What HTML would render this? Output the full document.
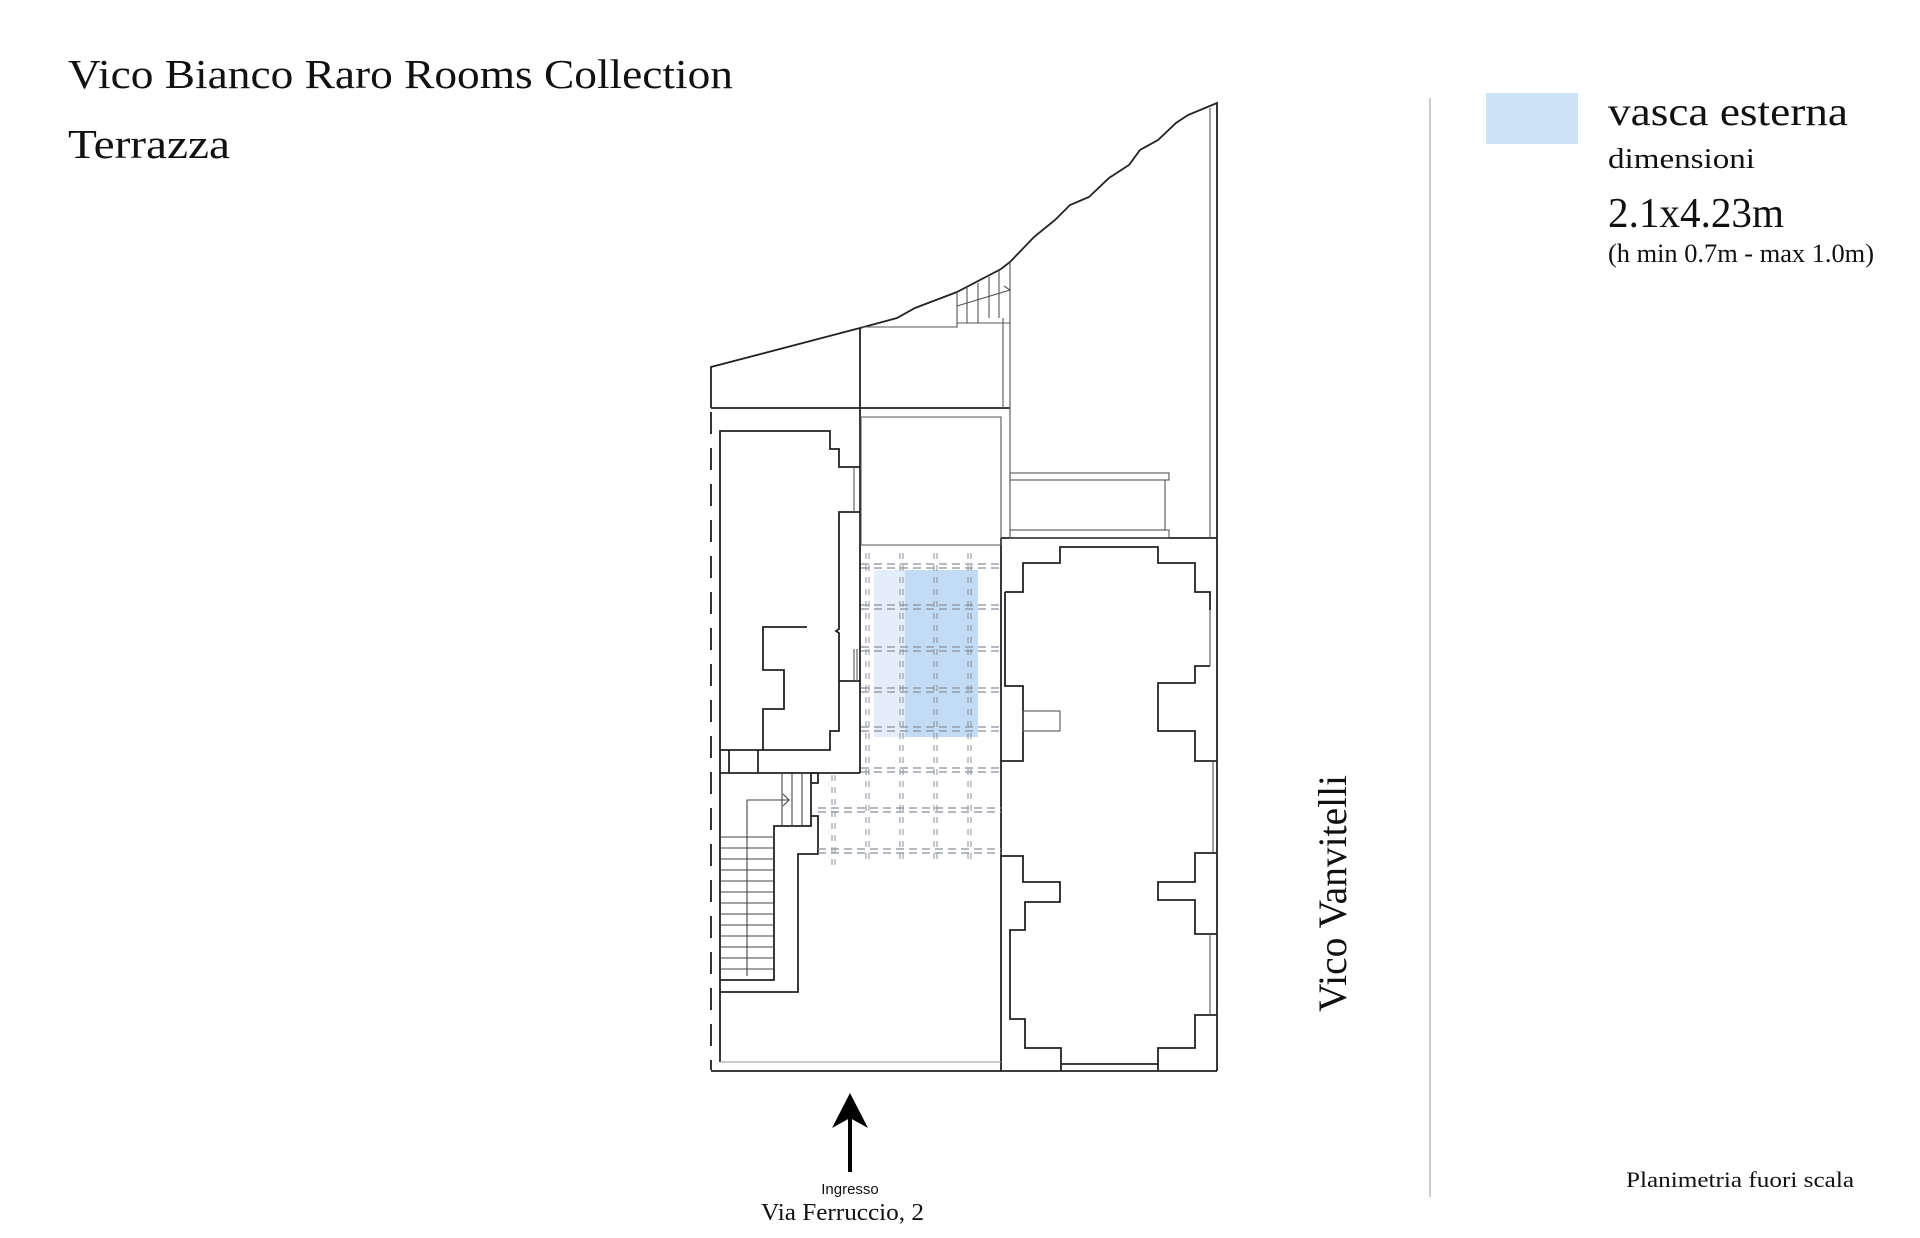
<!DOCTYPE html>
<html><head><meta charset="utf-8"><style>
html,body{margin:0;padding:0;background:#fff;}
svg{display:block;}
text{font-family:"Liberation Serif",serif;fill:#111;}
</style></head><body>
<svg width="1920" height="1238" viewBox="0 0 1920 1238" xmlns="http://www.w3.org/2000/svg">
<text x="68" y="88" font-size="41" textLength="665" lengthAdjust="spacingAndGlyphs">Vico Bianco Raro Rooms Collection</text>
<text x="68" y="158" font-size="41" textLength="162" lengthAdjust="spacingAndGlyphs">Terrazza</text>

<rect x="1486" y="93" width="92" height="51" fill="#cde3f7"/>
<text x="1608" y="125" font-size="40" textLength="240" lengthAdjust="spacingAndGlyphs">vasca esterna</text>
<text x="1608" y="168" font-size="28" textLength="147" lengthAdjust="spacingAndGlyphs">dimensioni</text>
<text x="1608" y="227" font-size="42" textLength="176" lengthAdjust="spacingAndGlyphs">2.1x4.23m</text>
<text x="1608" y="262" font-size="26" textLength="266" lengthAdjust="spacingAndGlyphs">(h min 0.7m - max 1.0m)</text>

<line x1="1430" y1="98" x2="1430" y2="1197" stroke="#bbb" stroke-width="1.5"/>
<text transform="translate(1346,1012) rotate(-90)" font-size="40" textLength="237" lengthAdjust="spacingAndGlyphs">Vico Vanvitelli</text>
<text x="1626" y="1187" font-size="22" textLength="228" lengthAdjust="spacingAndGlyphs">Planimetria fuori scala</text>

<rect x="874" y="570" width="34" height="167" fill="#e3eefa"/>
<rect x="905" y="570" width="73" height="167" fill="#c2dcf5"/>

<g fill="none" stroke="#222" stroke-width="1.8">
<polyline points="711,408 711,367 860,328 897,318 915,308 957,292 1001,269 1010,262 1034,237 1055,220 1070,205 1089,197 1109,178 1129,165 1140,150 1158,140 1176,123 1188,115 1217,103 1217,1071"/>
<line x1="711" y1="408" x2="1010" y2="408"/>
<line x1="860" y1="328" x2="860" y2="773"/>
<polyline points="720,1062 720,431 830,431 830,449 839,449 839,467 860,467"/>
<polyline points="860,512 839,512 839,629 836,631 839,633 839,681 860,681"/>
<polyline points="763,750 720,750"/>
<polyline points="807,627 763,627 763,670 784,670 784,709 763,709 763,750 830,750 830,731 839,731 839,681"/>
<polyline points="720,773 860,773"/>
<line x1="729" y1="750" x2="729" y2="773"/><line x1="758" y1="750" x2="758" y2="773"/>
<polyline points="811,773 811,826 774,826 774,980 720,980"/>
<polyline points="811,773 818,773 818,783 811,783"/>
<polyline points="811,816 818,816 818,854 798,854 798,992 720,992"/>
<polyline points="1001,538 1217,538"/>
<line x1="1001" y1="538" x2="1001" y2="1071"/>
<line x1="711" y1="1071" x2="1217" y2="1071"/>
<line x1="1061" y1="1064" x2="1158" y2="1064"/>
<polyline points="1005,592 1023,592 1023,563 1060,563 1060,547 1158,547 1158,563 1195,563 1195,592 1210,592 1210,610"/>
<polyline points="1005,592 1005,686 1023,686 1023,761 1001,761"/>
<polyline points="1001,856 1023,856 1023,882 1060,882 1060,902 1025,902 1025,930 1010,930 1010,1019 1025,1019 1025,1048 1061,1048 1061,1071"/>
<polyline points="1210,666 1195,666 1195,683 1158,683 1158,731 1195,731 1195,761 1217,761"/>
<polyline points="1217,853 1195,853 1195,882 1158,882 1158,900 1195,900 1195,934 1217,934"/>
<polyline points="1217,1015 1195,1015 1195,1048 1158,1048 1158,1071"/>
</g>

<g fill="none" stroke="#555" stroke-width="1.1">
<line x1="1210" y1="108" x2="1210" y2="538"/>
<line x1="1010" y1="262" x2="1010" y2="538"/>
<line x1="1003" y1="318" x2="1003" y2="408"/>
<polyline points="860,327 957,327 957,323 1010,323"/>
<line x1="957" y1="292" x2="957" y2="323"/>
<line x1="967" y1="288" x2="967" y2="323"/><line x1="978" y1="283" x2="978" y2="323"/><line x1="989" y1="277" x2="989" y2="318"/><line x1="999" y1="271" x2="999" y2="318"/>
<polyline points="957,306 1010,290 1004,286 M1010,290 1004,295"/>
<polyline points="861,545 861,417 1001,417 1001,545"/>
<line x1="861" y1="545" x2="1001" y2="545"/>
<rect x="1010" y="473" width="159" height="7"/>
<rect x="1010" y="530" width="159" height="8"/>
<line x1="1165" y1="480" x2="1165" y2="530"/>
<line x1="854" y1="467" x2="854" y2="512"/>
<line x1="854" y1="649" x2="854" y2="681"/><line x1="857" y1="649" x2="857" y2="681"/>
<line x1="720" y1="1062" x2="1001" y2="1062" stroke="#999"/>
<line x1="1210" y1="610" x2="1210" y2="666"/><line x1="1213" y1="761" x2="1213" y2="853"/><line x1="1210" y1="934" x2="1210" y2="1015"/>
<rect x="1023" y="711" width="37" height="20"/>
<g stroke="#444">
<line x1="720" y1="837" x2="774" y2="837"/><line x1="720" y1="848" x2="774" y2="848"/><line x1="720" y1="859" x2="774" y2="859"/><line x1="720" y1="870" x2="774" y2="870"/><line x1="720" y1="881" x2="774" y2="881"/><line x1="720" y1="892" x2="774" y2="892"/><line x1="720" y1="903" x2="774" y2="903"/><line x1="720" y1="914" x2="774" y2="914"/><line x1="720" y1="925" x2="774" y2="925"/><line x1="720" y1="936" x2="774" y2="936"/><line x1="720" y1="947" x2="774" y2="947"/><line x1="720" y1="958" x2="774" y2="958"/><line x1="720" y1="969" x2="774" y2="969"/>
<line x1="782" y1="773" x2="782" y2="826"/><line x1="792" y1="773" x2="792" y2="826"/><line x1="802" y1="773" x2="802" y2="826"/>
<polyline points="747,976 747,800 788,800"/><polyline points="783,794 789,800 783,806"/>
</g>
</g>

<line x1="711" y1="412" x2="711" y2="1070" stroke="#333" stroke-width="2" stroke-dasharray="22,14"/>

<g stroke="#8a8f99" stroke-width="1.2" stroke-dasharray="8,5" fill="none">
<line x1="861" y1="564" x2="1001" y2="564"/><line x1="861" y1="568" x2="1001" y2="568"/>
<line x1="861" y1="605" x2="1001" y2="605"/><line x1="861" y1="609" x2="1001" y2="609"/>
<line x1="861" y1="647" x2="1001" y2="647"/><line x1="861" y1="651" x2="1001" y2="651"/>
<line x1="861" y1="688" x2="1001" y2="688"/><line x1="861" y1="692" x2="1001" y2="692"/>
<line x1="861" y1="727" x2="1001" y2="727"/><line x1="861" y1="731" x2="1001" y2="731"/>
<line x1="861" y1="768" x2="1001" y2="768"/><line x1="861" y1="772" x2="1001" y2="772"/>
<line x1="818" y1="808" x2="1001" y2="808"/><line x1="818" y1="812" x2="1001" y2="812"/>
<line x1="818" y1="849" x2="1001" y2="849"/><line x1="818" y1="853" x2="1001" y2="853"/>
</g>
<g stroke="#8a8f99" stroke-width="1" stroke-dasharray="6,6" fill="none">
<line x1="866" y1="553" x2="866" y2="865"/><line x1="869" y1="553" x2="869" y2="865"/>
<line x1="900" y1="553" x2="900" y2="865"/><line x1="903" y1="553" x2="903" y2="865"/>
<line x1="934" y1="553" x2="934" y2="865"/><line x1="937" y1="553" x2="937" y2="865"/>
<line x1="968" y1="553" x2="968" y2="865"/><line x1="971" y1="553" x2="971" y2="865"/>
<line x1="832" y1="775" x2="832" y2="865"/><line x1="835" y1="775" x2="835" y2="865"/>
</g>

<line x1="850" y1="1110" x2="850" y2="1172" stroke="#000" stroke-width="4"/>
<polygon points="850,1093 832,1128 850,1118 868,1128" fill="#000"/>
<text x="850" y="1194" font-size="15" text-anchor="middle" style="font-family:'Liberation Sans',sans-serif">Ingresso</text>
<text x="761" y="1220" font-size="24" textLength="163" lengthAdjust="spacingAndGlyphs">Via  Ferruccio, 2</text>
</svg>
</body></html>
